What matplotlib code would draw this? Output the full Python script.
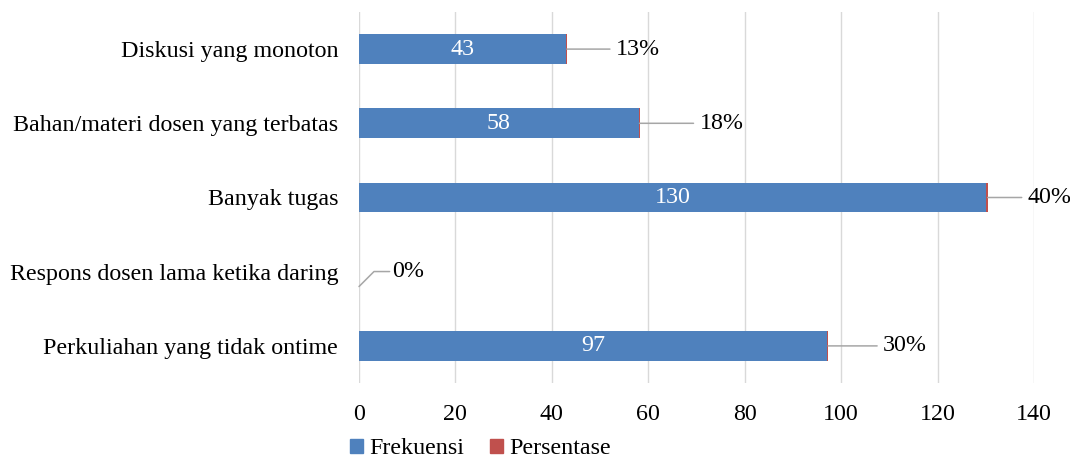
import numpy as np
import matplotlib.pyplot as plt
from matplotlib.patches import Patch

plt.rcParams['font.family'] = ['Liberation Serif', 'DejaVu Serif']

# data, bottom row first
kategori = ['Perkuliahan yang tidak ontime', 'Respons dosen lama ketika daring',
            'Banyak tugas', 'Bahan/materi dosen yang terbatas', 'Diskusi yang monoton']
frekuensi = [97, 0, 130, 58, 43]
persentase = [0.30, 0.00, 0.40, 0.18, 0.13]
x_ticks = [0, 20, 40, 60, 80, 100, 120, 140]

blue = '#4F81BD'
red = '#C0504D'
fs = 17.3

fig = plt.figure(figsize=(10.7, 4.59), dpi=100)
ax = fig.add_axes([359 / 1070, 1 - 383 / 459, 675 / 1070, 371 / 459])

y = np.arange(len(kategori))
ax.barh(y, frekuensi, height=0.4, color=blue, zorder=3)
ax.barh(y, persentase, left=frekuensi, height=0.4, color=red, zorder=3)

# white value labels inside the blue bars
for yi, f in zip(y, frekuensi):
    if f > 0:
        ax.text(f / 2, yi, str(f), color='white', ha='center', va='center',
                fontsize=fs, zorder=4)

# percent labels with leader lines (pixel offsets from bar end)
offsets = [55, 0, 40, 60, 49]
line_kw = dict(arrowstyle='-', color='#A6A6A6', lw=1.1, shrinkA=0, shrinkB=0)
box_kw = dict(boxstyle='square,pad=0.25', fc='none', ec='none')
for yi, f, p, off in zip(y, frekuensi, persentase, offsets):
    label = '{:.0%}'.format(p)
    if f + p == 0:
        ax.annotate(label, xy=(0, yi - 0.2), xytext=(33, 15), textcoords='offset pixels',
                    ha='left', va='center', fontsize=fs, annotation_clip=False,
                    bbox=dict(boxstyle='square,pad=0.1', fc='none', ec='none'),
                    arrowprops=dict(line_kw, connectionstyle='angle,angleA=0,angleB=45,rad=0'))
    else:
        ax.annotate(label, xy=(f + p, yi), xytext=(off, 0), textcoords='offset pixels',
                    ha='left', va='center', fontsize=fs, annotation_clip=False,
                    bbox=box_kw, arrowprops=line_kw)

ax.set_xlim(0, 140)
ax.set_ylim(-0.5, len(kategori) - 0.5)
ax.set_xticks(x_ticks)
ax.set_yticks(y)
ax.set_yticklabels(kategori)
ax.tick_params(axis='both', length=0, labelsize=fs)
ax.tick_params(axis='y', pad=15)
ax.tick_params(axis='x', pad=15)
ax.grid(axis='x', color='#D9D9D9', lw=1.0, zorder=0)
for s in ax.spines.values():
    s.set_visible(False)

handles = [Patch(color=blue, label='Frekuensi'), Patch(color=red, label='Persentase')]
fig.legend(handles=handles, loc='lower left', bbox_to_anchor=(328 / 1070, -0.048),
           ncol=2, frameon=False, fontsize=fs, handlelength=0.55, handleheight=0.55,
           handletextpad=0.25, columnspacing=1.1)

fig.savefig('out.png', dpi=100)
